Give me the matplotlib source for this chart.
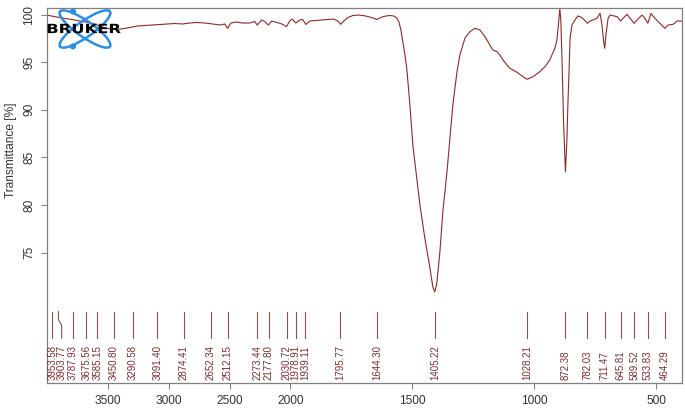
import numpy as np
import matplotlib
matplotlib.use('Agg')
import matplotlib.pyplot as plt
from matplotlib.patches import Ellipse, Circle, PathPatch
from matplotlib.textpath import TextPath
from matplotlib.font_manager import FontProperties
from matplotlib.transforms import Affine2D

# IR spectrum (wavenumber cm-1, transmittance %)
wavenumber = [3998, 3960, 3910, 3853, 3795, 3729, 3664, 3607, 3549, 3500,
              3443, 3385, 3319, 3254, 3196, 3139, 3073, 3016, 2950, 2887,
              2827, 2769, 2703, 2638, 2580, 2539, 2515, 2490, 2441, 2392,
              2334, 2293, 2273, 2236, 2211, 2181, 2154, 2112, 2071, 2033,
              2006, 1993, 1978, 1962, 1950, 1937, 1921, 1896, 1872, 1847,
              1822, 1806, 1794, 1781, 1765, 1744, 1724, 1703, 1683, 1662,
              1646, 1625, 1609, 1592, 1576, 1564, 1555, 1547, 1539, 1531,
              1523, 1510, 1498, 1482, 1469, 1449, 1428, 1416, 1408, 1400,
              1387, 1375, 1358, 1346, 1334, 1317, 1305, 1284, 1264, 1243,
              1223, 1202, 1182, 1170, 1153, 1141, 1128, 1112, 1100, 1071,
              1050, 1030, 1005, 977, 956, 936, 915, 907, 901, 895,
              891, 886, 880, 872, 866, 862, 857, 853, 845, 833,
              821, 808, 796, 782, 771, 759, 743, 730, 722, 716,
              711, 706, 697, 689, 677, 660, 646, 636, 619, 607,
              590, 578, 558, 546, 534, 521, 505, 484, 464, 451,
              430, 414, 394]
transmittance = [99.95, 99.86, 99.75, 99.60, 99.50, 99.33, 99.18, 99.02, 98.70, 98.55,
                 98.46, 98.50, 98.65, 98.81, 98.86, 98.91, 98.97, 99.02, 99.07, 99.02,
                 99.12, 99.18, 99.12, 99.02, 98.91, 99.02, 98.57, 99.12, 99.23, 99.12,
                 99.12, 99.28, 98.91, 99.44, 99.28, 98.91, 99.33, 99.18, 99.02, 98.74,
                 99.33, 99.54, 99.12, 99.44, 99.49, 98.97, 99.33, 99.39, 99.44, 99.49,
                 99.54, 99.33, 98.99, 99.33, 99.70, 99.91, 99.96, 99.91, 99.81, 99.65,
                 99.49, 99.75, 99.86, 99.91, 99.86, 99.65, 99.23, 98.39, 97.16, 95.87,
                 94.37, 90.50, 86.30, 82.84, 80.01, 76.54, 73.39, 71.40, 70.87, 71.70,
                 75.07, 79.27, 83.47, 87.04, 90.51, 93.98, 95.76, 97.55, 98.21, 98.57,
                 98.39, 97.69, 96.81, 96.29, 96.11, 95.76, 95.24, 94.71, 94.37, 93.95,
                 93.56, 93.21, 93.48, 94.01, 94.53, 95.24, 96.50, 97.34, 98.91, 100.67,
                 99.44, 95.24, 88.94, 83.47, 86.83, 90.51, 94.19, 97.55, 98.91, 99.44,
                 99.86, 99.75, 99.49, 99.09, 99.33, 99.44, 99.62, 100.14, 98.91, 97.34,
                 96.47, 97.86, 99.62, 99.96, 99.89, 99.79, 99.33, 99.62, 100.04, 99.62,
                 99.09, 99.44, 99.96, 99.62, 99.09, 100.12, 99.62, 99.09, 98.57, 98.91,
                 98.99, 99.33, 99.33]

peaks = [3953.58, 3903.77, 3787.93, 3675.56, 3585.15, 3450.80, 3290.58, 3091.40,
         2874.41, 2652.34, 2512.15, 2273.44, 2177.80, 2030.72, 1978.91, 1939.11,
         1795.77, 1644.30, 1405.22, 1028.21, 872.38, 782.03, 711.47, 645.81,
         589.52, 533.83, 464.29]
# where each label sits (one label is pushed aside to avoid overlap)
label_x = [3953.58, 3877.0, 3787.93, 3675.56, 3585.15, 3450.80, 3290.58, 3091.40,
           2874.41, 2652.34, 2512.15, 2273.44, 2177.80, 2030.72, 1978.91, 1939.11,
           1795.77, 1644.30, 1405.22, 1028.21, 872.38, 782.03, 711.47, 645.81,
           589.52, 533.83, 464.29]

x_ticks = [3500, 3000, 2500, 2000, 1500, 1000, 500]
y_ticks = [75, 80, 85, 90, 95, 100]


# OPUS style axis: region above 2000 cm-1 compressed by a factor 2
def fwd(w):
    w = np.asarray(w, float)
    return np.where(w <= 2000, w, 2000 + (w - 2000) / 2)


def inv(v):
    v = np.asarray(v, float)
    return np.where(v <= 2000, v, 2000 + 2 * (v - 2000))


plt.rcParams['font.family'] = ['Liberation Sans', 'DejaVu Sans']

line_col = '#8b2a2a'
peak_col = '#8c4f4f'
text_col = '#7a2e2e'
frame_col = '#808080'

fig = plt.figure(figsize=(6.85, 4.12), dpi=100)
ax = fig.add_axes([0.0682, 0.0704, 0.9270, 0.9102])

ax.set_xscale('function', functions=(fwd, inv))
ax.plot(wavenumber, transmittance, color=line_col, lw=0.8)

# peak markers and labels
for p, lx in zip(peaks, label_x):
    ax.plot([p, p, lx, lx], [68.8, 67.95, 67.35, 66.0], color=peak_col, lw=0.8)
    ax.text(lx, 61.65, '%.2f' % p, rotation=90, ha='center', va='bottom',
            fontsize=7, color=text_col)

ax.set_xlim(4000, 395)
ax.set_ylim(61.3, 100.7)
ax.set_xticks(x_ticks)
ax.set_xticklabels([str(t) for t in x_ticks])
ax.set_yticks(y_ticks)
ax.set_yticklabels([str(t) for t in y_ticks], rotation=90, va='center')
ax.minorticks_off()
ax.tick_params(axis='both', length=4.3, width=0.8, color=frame_col,
               labelsize=8.6, labelcolor='#333333', pad=4)
for s in ax.spines.values():
    s.set_color(frame_col)
    s.set_linewidth(0.9)

ax.set_ylabel('Transmittance [%]', fontsize=8.6, color='#333333')
ax.yaxis.set_label_coords(-0.0465, 0.62)

# Bruker logo (drawn in pixel units of the picture)
lg = fig.add_axes([45 / 685, 1 - 52 / 412, 80 / 685, 47 / 412])
lg.set_xlim(45, 125)
lg.set_ylim(52, 5)
lg.axis('off')
lg.patch.set_alpha(0)
blue = '#2d8de0'
for ang in (35, -35):
    lg.add_patch(Ellipse((85, 29), 61, 16, angle=ang, fill=False,
                         edgecolor=blue, lw=1.8))
for cx, cy in [(73, 11.5), (73, 46.5)]:
    lg.add_patch(Circle((cx, cy), 2.3, color=blue))
tp = TextPath((0, 0), 'BRUKER', size=1,
              prop=FontProperties(family='DejaVu Sans', weight='bold'))
ext = tp.get_extents()
sx = 73 / ext.width
sy = 9.5 / ext.height
tr = Affine2D().translate(-ext.x0, -ext.y0).scale(sx, -sy).translate(47.7, 33.3)
lg.add_patch(PathPatch(tr.transform_path(tp), color='black', lw=0))

fig.savefig('out.png', dpi=100)
